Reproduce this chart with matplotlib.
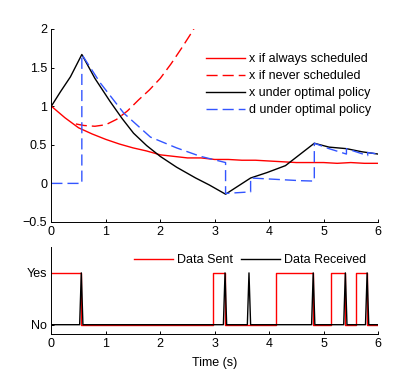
import matplotlib
matplotlib.use("Agg")
import matplotlib.pyplot as plt
import numpy as np

plt.rcParams['font.family'] = ['Liberation Sans', 'DejaVu Sans']
plt.rcParams['font.size'] = 9

# ---- data (top panel) ----
t_always = [0, 0.25, 0.5, 0.75, 1.0, 1.25, 1.5, 1.75, 2.0, 2.25, 2.5, 2.75, 3.0,
            3.25, 3.5, 3.75, 4.0, 4.25, 4.5, 4.75, 5.0, 5.25, 5.5, 5.75, 6.0]
x_always = [1.0, 0.85, 0.72, 0.64, 0.57, 0.51, 0.46, 0.42, 0.37, 0.35, 0.33, 0.33, 0.31,
            0.31, 0.30, 0.30, 0.29, 0.28, 0.27, 0.27, 0.27, 0.26, 0.27, 0.26, 0.26]

t_never = [0.45, 0.6, 0.8, 1.0, 1.2, 1.4, 1.6, 1.8, 2.0, 2.2, 2.4, 2.6, 2.8]
x_never = [0.77, 0.75, 0.74, 0.76, 0.83, 0.94, 1.08, 1.21, 1.36, 1.55, 1.76, 1.98, 2.25]

t_opt = [0, 0.17, 0.35, 0.56, 0.8, 1.08, 1.3, 1.51, 1.75, 2.0, 2.3, 2.65, 2.9, 3.2,
         3.66, 3.96, 4.3, 4.83, 5.1, 5.42, 5.7, 6.0]
x_opt = [1.0, 1.19, 1.38, 1.67, 1.36, 1.06, 0.84, 0.65, 0.49, 0.35, 0.21, 0.07, -0.02, -0.14,
         0.07, 0.14, 0.23, 0.52, 0.47, 0.45, 0.41, 0.38]

t_d = [0, 0.56, 0.56, 0.9, 1.33, 1.82, 2.3, 2.74, 3.2, 3.2, 3.66, 3.66, 4.58, 4.83,
       4.83, 5.1, 5.42, 5.42, 5.81, 5.81, 6.0]
d_opt = [0, 0, 1.67, 1.30, 0.91, 0.60, 0.46, 0.35, 0.27, -0.13, -0.11, 0.07, 0.035, 0.03,
         0.52, 0.45, 0.38, 0.45, 0.36, 0.40, 0.38]

# ---- data (bottom panel) ----
sent_start = [0.0, 2.96, 4.12, 5.14, 5.59]
sent_end = [0.55, 3.19, 4.81, 5.40, 5.80]
received_times = [0.55, 3.19, 3.63, 4.81, 5.40, 5.80]
t_end = 6.0
spike_hw = 0.03

fig = plt.figure(figsize=(3.95, 3.80), dpi=100)
ax1 = fig.add_axes([0.130, 0.4158, 0.827, 0.5079])
ax2 = fig.add_axes([0.130, 0.121, 0.827, 0.229])

red = '#ff0000'
blue = '#3355ff'
dash = (0, (8, 3.6))

ax1.plot(t_always, x_always, color=red, lw=1.0, label='x if always scheduled')
ax1.plot(t_never, x_never, color=red, lw=1.0, ls=dash, label='x if never scheduled')
ax1.plot(t_opt, x_opt, color='black', lw=1.0, label='x under optimal policy')
ax1.plot(t_d, d_opt, color=blue, lw=1.0, ls=dash, label='d under optimal policy')
ax1.set_xlim(0, 6)
ax1.set_ylim(-0.5, 2)
ax1.set_yticks([-0.5, 0, 0.5, 1, 1.5, 2])
ax1.set_yticklabels(['\u22120.5', '0', '0.5', '1', '1.5', '2'])
ax1.set_xticks(range(7))
ax1.legend(loc='upper right', bbox_to_anchor=(371/395, 1 - 53/380),
           bbox_transform=fig.transFigure, frameon=False, borderpad=0,
           borderaxespad=0, handlelength=3.1, handletextpad=0.35, labelspacing=0.4)

# bottom
sx, sy = [], []
for s, e in zip(sent_start, sent_end):
    if s == 0:
        sx += [s, e, e]
        sy += [1, 1, 0]
    else:
        sx += [s, s, e, e]
        sy += [0, 1, 1, 0]
sx += [t_end]
sy += [0]
rx, ry = [0.0], [0.0]
for r in received_times:
    rx += [r - spike_hw, r, r + spike_hw]
    ry += [0, 1, 0]
rx += [t_end]
ry += [0]
ax2.plot(sx, sy, color=red, lw=1.0, label='Data Sent')
ax2.plot(rx, ry, color='black', lw=1.0, label='Data Received')
ax2.set_xlim(0, 6)
ax2.set_ylim(-0.18, 1.5)
ax2.set_yticks([0, 1])
ax2.set_yticklabels(['No', 'Yes'])
ax2.set_xticks(range(7))
ax2.set_xlabel('Time (s)', labelpad=5)
ax2.legend(loc='center right', bbox_to_anchor=(366/395, 1 - 260/380),
           bbox_transform=fig.transFigure, frameon=False, ncol=2, borderpad=0,
           borderaxespad=0, handlelength=3.1, handletextpad=0.35, columnspacing=0.6)

for ax in (ax1, ax2):
    ax.spines['top'].set_visible(False)
    ax.spines['right'].set_visible(False)
    ax.spines['left'].set_linewidth(0.7)
    ax.spines['bottom'].set_linewidth(0.7)
    ax.tick_params(direction='in', length=2.5, width=0.7, pad=3)

fig.savefig('out.png', dpi=100)
